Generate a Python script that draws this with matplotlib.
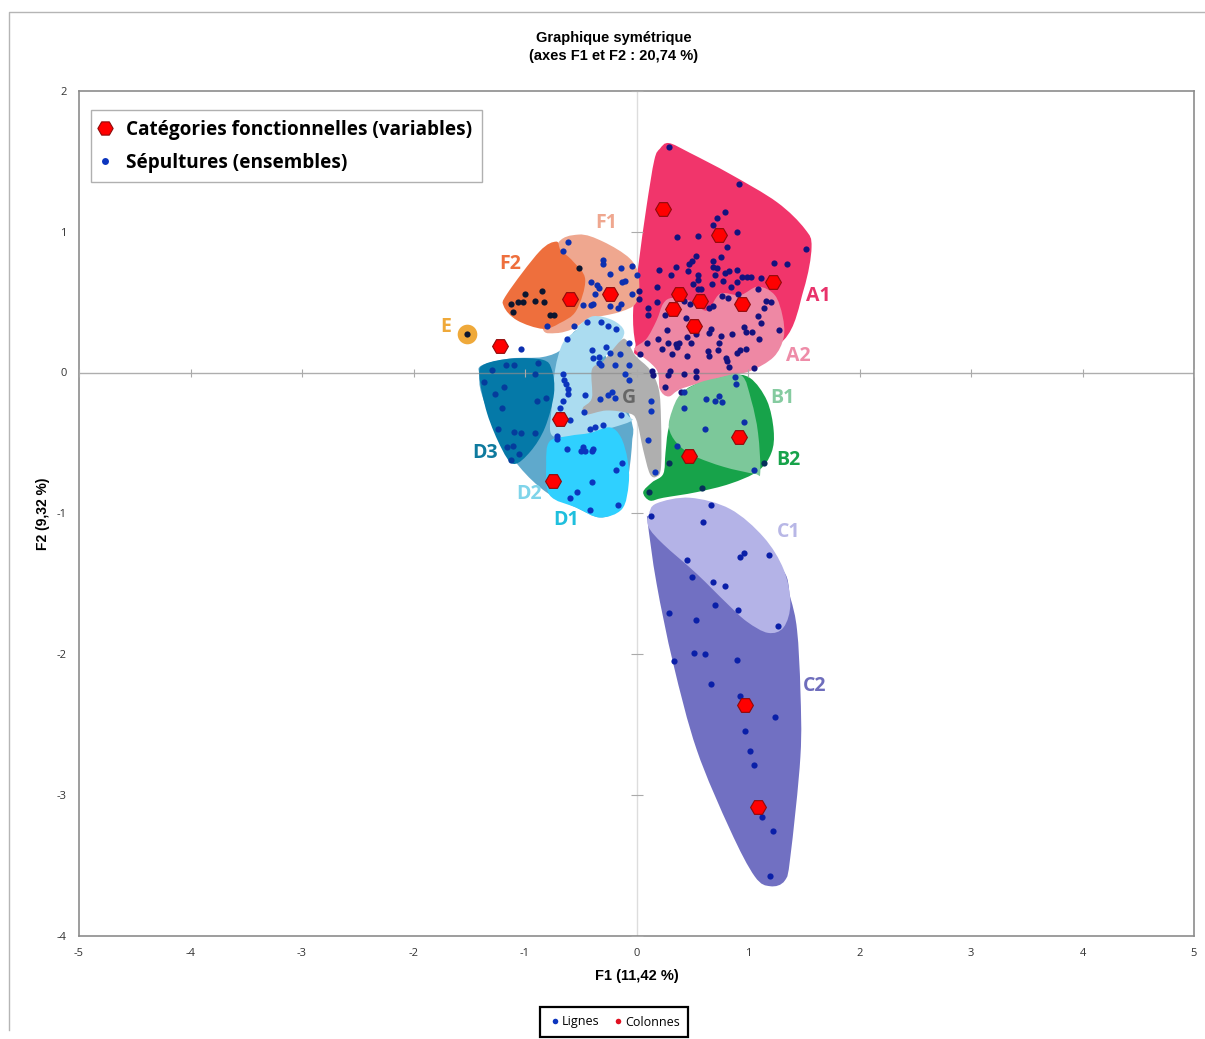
"""Symmetric plot of the correspondence analysis (axes F1 and F2)."""

import matplotlib

matplotlib.use("Agg")
import matplotlib.pyplot as plt
from matplotlib.lines import Line2D
from matplotlib.patches import PathPatch
from matplotlib.path import Path

plt.rcParams["axes.unicode_minus"] = False

# region outlines, control points in F1 / F2 units
a1_outline = [(.21, 1.59), (.29, 1.63), (.48, 1.56), (.84, 1.41), (1.26, 1.21), (1.51, 1.02), (1.57, .89),
              (1.50, .59), (1.32, .23), (.84, .06), (.06, .11), (-.01, .21), (-.03, .44), (.02, .78),
              (.09, 1.18), (.16, 1.51)]
a2_outline = [(.09, .24), (.18, .37), (.24, .49), (.32, .53), (.48, .51), (.63, .44), (.75, .56), (.93, .55),
              (1.09, .61), (1.24, .55), (1.31, .40), (1.32, .25), (1.23, .11), (1.02, .01), (.84, -.02),
              (.42, -.11), (.29, -.17), (.21, -.12), (.18, .02), (0, .15), (-.01, .18)]
b2_outline = [(.84, -.02), (1.02, -.04), (1.17, -.20), (1.23, -.41), (1.21, -.57), (1.09, -.70), (.84, -.79),
              (.54, -.85), (.24, -.89), (.12, -.91), (.06, -.85), (.14, -.78), (.24, -.72), (.26, -.57),
              (.29, -.39), (.39, -.17), (.54, -.08)]
b1_outline = [(.72, -.04), (.94, -.02), (1.03, -.20), (1.09, -.43), (1.11, -.71), (1.06, -.72), (.78, -.67),
              (.51, -.59), (.36, -.50), (.29, -.39), (.32, -.27), (.39, -.16), (.54, -.08)]
c2_outline = [(.11, -1.02), (.10, -1.06), (.18, -1.50), (.33, -2.07), (.54, -2.68), (.84, -3.25), (1.06, -3.58),
              (1.20, -3.65), (1.33, -3.61), (1.38, -3.44), (1.47, -2.73), (1.47, -2.26), (1.44, -1.83),
              (1.38, -1.60), (1.28, -1.38), (.75, -1.19), (.24, -.98)]
c1_outline = [(.11, -1.01), (.18, -.93), (.48, -.89), (.84, -.97), (1.14, -1.17), (1.32, -1.40), (1.38, -1.64),
              (1.32, -1.81), (1.18, -1.85), (.99, -1.77), (.81, -1.64), (.54, -1.43), (.24, -1.22), (.11, -1.10)]
d2_outline = [(-1.41, -.02), (-1.39, .05), (-1.13, .10), (-.84, .11), (-.66, .17), (-.54, .30), (-.36, .25),
              (-.06, -.31), (-.04, -.50), (-.09, -.81), (-.18, -.98), (-.33, -1.03), (-.54, -.96), (-.81, -.85),
              (-1.05, -.67), (-1.25, -.43), (-1.39, -.15)]
d3_outline = [(-1.41, -.02), (-1.36, .06), (-1.11, .10), (-.84, .09), (-.76, .02), (-.74, -.15), (-.82, -.39),
              (-.95, -.56), (-1.10, -.65), (-1.21, -.54), (-1.34, -.29)]
d2_light_outline = [(-.39, .40), (-.21, .37), (-.11, .29), (-.18, .18), (-.36, .02), (-.09, -.29), (-.04, -.34),
                    (-.21, -.39), (-.45, -.44), (-.66, -.46), (-.77, -.43), (-.76, -.24), (-.73, .02),
                    (-.66, .21), (-.54, .30), (-.52, .33)]
d1_outline = [(-.81, -.65), (-.78, -.49), (-.60, -.45), (-.42, -.43), (-.24, -.39), (-.14, -.46), (-.08, -.62),
              (-.07, -.79), (-.13, -.97), (-.33, -1.03), (-.54, -.96), (-.78, -.87)]
g_outline = [(-.15, .22), (-.09, .23), (-.01, .12), (.12, .02), (.20, -.12), (.22, -.34), (.22, -.67), (.18, -.74),
             (.12, -.72), (.06, -.55), (0, -.34), (-.07, -.29), (-.27, -.27), (-.46, -.30), (-.48, -.25),
             (-.40, -.18), (-.40, .02), (-.30, .08)]
f1_outline = [(-.72, .90), (-.52, .98), (-.30, .93), (-.06, .81), (.02, .68), (0, .50), (-.15, .43), (-.42, .38),
              (-.57, .31), (-.72, .28), (-.84, .31), (-.80, .55)]
f2_outline = [(-.72, .93), (-.87, .86), (-1.16, .56), (-1.19, .47), (-1.07, .37), (-.84, .31), (-.69, .35),
              (-.54, .44), (-.46, .66), (-.57, .79), (-.68, .87)]

# burials, grouped by the region they sit on
points_a = [(.29, 1.60), (.92, 1.34), (.79, 1.14), (.72, 1.10), (.69, 1.05), (.90, 1.00), (.55, .97), (.36, .96),
            (.81, .89), (1.52, .88), (.76, .82), (.53, .83), (.50, .79), (.47, .77), (.69, .79), (.69, .75),
            (.72, .74), (.35, .75), (.20, .73), (.46, .72), (.90, .73), (.83, .72), (.79, .71), (1.23, .78),
            (1.35, .77), (.70, .69), (.55, .69), (.31, .69), (.95, .68), (.99, .68), (1.03, .68), (1.12, .67),
            (.78, .65), (.90, .64), (.55, .66), (.51, .63), (.68, .63), (.85, .61), (.18, .61), (.58, .59),
            (.55, .59), (.02, .58), (.02, .52), (.18, .50), (.10, .46), (.10, .41), (.82, .53), (.77, .54),
            (.91, .56), (1.09, .59), (1.16, .51), (1.21, .50), (1.14, .46), (1.09, .40), (1.12, .35), (1.28, .30),
            (.96, .32), (.98, .29), (1.04, .29), (1.10, .24), (.43, .51), (.48, .49), (.69, .47), (.65, .46),
            (.26, .41), (.44, .39), (.27, .30), (.19, .24), (.09, .21), (.03, .13), (.23, .17), (.28, .21),
            (.35, .20), (.38, .21), (.36, .18), (.49, .21), (.45, .25), (.53, .27), (.67, .31), (.65, .28),
            (.76, .26), (.86, .27), (.74, .21), (.73, .16), (.64, .15), (.65, .12), (.32, .13), (.45, .12),
            (.80, .10), (.81, .08), (.93, .16), (.98, .17), (.90, .14), (.83, .04), (1.05, .03), (.14, .01),
            (.15, -.02), (.30, .01), (.28, -.02), (.43, -.01), (.53, .01), (.53, -.03), (.26, -.10), (.40, -.14)]
points_f1 = [(-.61, .93), (-.66, .86), (-.30, .80), (-.30, .77), (-.14, .74), (-.04, .76), (0, .69), (-.24, .70),
             (-.41, .64), (-.35, .62), (-.34, .60), (-.13, .64), (-.10, .65), (-.37, .56), (-.04, .56), (-.14, .49),
             (-.17, .46), (-.24, .47), (-.39, .49), (-.41, .48), (-.48, .48), (-.80, .33), (-.56, .33), (-1.04, .17)]
points_f2 = [(-.52, .74), (-.85, .58), (-1.00, .56), (-.91, .51), (-.83, .50), (-1.02, .50), (-1.06, .50),
             (-1.13, .49), (-1.11, .43), (-.78, .41), (-.74, .41), (-1.52, .27)]
points_d = [(-.62, .24), (-.44, .36), (-.32, .36), (-.26, .33), (-.18, .31), (-.40, .16), (-.27, .18), (-.24, .14),
            (-.07, .21), (-.15, .13), (-.39, .10), (-.34, .11), (-.34, .07), (-.32, .05), (-.19, .05), (-.07, .05),
            (-.10, -.01), (-.07, -.05), (-.66, -.01), (-.65, -.05), (-.63, -.08), (-.61, -.12), (-.61, -.15),
            (-.66, -.20), (-.69, -.25), (-.46, -.16), (-.60, -.34), (-.47, -.28), (-.33, -.19), (-.26, -.16),
            (-.22, -.14), (-.19, -.18), (-.14, -.30), (-.30, -.37), (-.37, -.39), (-.42, -.40), (-.71, -.45),
            (-.71, -.47), (-.62, -.54), (-.48, -.53), (-.50, -.56), (-.46, -.56), (-.39, -.54), (-.40, -.56),
            (-.13, -.64), (-.18, -.69), (-.40, -.78), (-.53, -.85), (-.60, -.89), (-.42, -.98), (-.17, -.94),
            (.13, -.20), (.13, -.27), (.10, -.48), (.17, -.71)]
points_d3 = [(-1.30, .02), (-1.17, .05), (-1.10, .05), (-.88, .07), (-.91, -.01), (-1.37, -.07), (-1.19, -.10),
             (-1.27, -.15), (-.89, -.20), (-.81, -.18), (-1.21, -.25), (-1.24, -.40), (-1.10, -.42), (-1.04, -.43),
             (-.91, -.43), (-1.11, -.52), (-1.16, -.53), (-1.05, -.58), (-1.13, -.62)]
points_b = [(.88, -.03), (.89, -.08), (.43, -.14), (.62, -.19), (.70, -.20), (.74, -.17), (.77, -.21), (.43, -.25),
            (.96, -.35), (.61, -.40), (.36, -.52), (1.05, -.69)]
points_b2 = [(.29, -.64), (1.14, -.64), (.59, -.82), (.11, -.85)]
points_c = [(.13, -1.02), (.67, -.94), (.60, -1.06), (.45, -1.33), (.50, -1.45), (.69, -1.49), (.79, -1.52),
            (.70, -1.65), (.91, -1.69), (.96, -1.28), (.93, -1.31), (1.19, -1.30), (1.27, -1.80), (.29, -1.71),
            (.53, -1.76), (.52, -1.99), (.61, -2.00), (.34, -2.05), (.90, -2.04), (.67, -2.21), (.93, -2.30),
            (1.24, -2.45), (.97, -2.55), (1.02, -2.69), (1.05, -2.79), (1.13, -3.16), (1.22, -3.26), (1.20, -3.58)]

# functional categories
categories = [(.24, 1.16), (.74, .98), (1.22, .64), (.38, .56), (.57, .51), (.33, .45), (.95, .49), (.52, .33),
              (-.24, .56), (-.60, .52), (-1.22, .19), (-.69, -.33), (-.75, -.77), (.92, -.46), (.47, -.59),
              (.97, -2.36), (1.09, -3.09)]
e_centre = [(-1.52, .27)]

x_ticks = [-5, -4, -3, -2, -1, 0, 1, 2, 3, 4, 5]
y_ticks = [-4, -3, -2, -1, 0, 1, 2]

region_labels = ["A1", "A2", "B1", "B2", "C1", "C2", "D1", "D2", "D3", "E", "F1", "F2", "G"]
label_x = [1.63, 1.45, 1.31, 1.36, 1.36, 1.60, -.63, -.96, -1.36, -1.71, -.27, -1.136, -.07]
label_y = [.54, .12, -.18, -.62, -1.13, -2.23, -1.05, -.86, -.57, .32, 1.06, .77, -.18]
label_colors = ["#E8336B", "#EE8CA8", "#85CBA0", "#17A34A", "#B8B7E6", "#6E6DBC", "#1FBFDD", "#7FD4EA", "#0E7A9E",
                "#EFA93A", "#EFA78F", "#EE6F3D", "#666666"]


def blob(points):
    """Closed smooth path through the outline points (Catmull-Rom as Beziers)."""
    n = len(points)
    verts = [points[0]]
    codes = [Path.MOVETO]
    for i in range(n):
        p0, p1, p2, p3 = points[i - 1], points[i], points[(i + 1) % n], points[(i + 2) % n]
        c1 = (p1[0] + (p2[0] - p0[0]) / 6, p1[1] + (p2[1] - p0[1]) / 6)
        c2 = (p2[0] - (p3[0] - p1[0]) / 6, p2[1] - (p3[1] - p1[1]) / 6)
        verts += [c1, c2, p2]
        codes += [Path.CURVE4, Path.CURVE4, Path.CURVE4]
    return Path(verts, codes)


def draw_blob(ax, points, color, zorder):
    ax.add_patch(PathPatch(blob(points), facecolor=color, edgecolor="none", zorder=zorder))


def draw_points(ax, points, color):
    ax.scatter([p[0] for p in points], [p[1] for p in points], s=20, color=color, linewidths=0, zorder=6)


W, H = 1205, 1039
fig = plt.figure(figsize=(W / 100, H / 100), dpi=100)
ax = fig.add_axes([79 / W, 1 - 935.5 / H, (1194 - 79) / W, (935.5 - 91) / H])
ax.set_xlim(-5, 5)
ax.set_ylim(-4, 2)

# outer frame of the exported sheet
fig.add_artist(Line2D([9 / W, 9 / W, 1], [1 - 1030 / H, 1 - 12 / H, 1 - 12 / H], color="#B5B5B5", lw=1))

ax.axvline(0, color="#DDDDDD", lw=1, zorder=1)
ax.plot(x_ticks, [0] * len(x_ticks), ls="none", marker="|", ms=6, mew=.8, color="#AAAAAA", zorder=5)
ax.plot([0] * len(y_ticks), y_ticks, ls="none", marker="_", ms=8, mew=.8, color="#AAAAAA", zorder=5)

draw_blob(ax, a1_outline, "#F1356B", 2)
draw_blob(ax, a2_outline, "#EE88A4", 2.1)
draw_blob(ax, f1_outline, "#EFA78F", 2)
draw_blob(ax, f2_outline, "#EE6F3D", 2.1)
draw_blob(ax, d2_outline, "#5FA9CC", 2)
draw_blob(ax, d2_light_outline, "#ABDCF0", 2.1)
draw_blob(ax, d1_outline, "#2FD0FF", 2.2)
draw_blob(ax, d3_outline, "#0579A8", 2.2)
draw_blob(ax, g_outline, "#AFAFAF", 2.3)
draw_blob(ax, b2_outline, "#17A34A", 2)
draw_blob(ax, b1_outline, "#7CC89A", 2.1)
draw_blob(ax, c2_outline, "#7170C2", 2)
draw_blob(ax, c1_outline, "#B4B3E7", 2.1)
ax.scatter([p[0] for p in e_centre], [p[1] for p in e_centre], s=200, color="#EFA93A", linewidths=0, zorder=3)
ax.axhline(0, color="#8C8C8C", lw=1, alpha=.7, zorder=4)

draw_points(ax, points_a, "#14127E")
draw_points(ax, points_f1, "#0C2FB0")
draw_points(ax, points_f2, "#0B1630")
draw_points(ax, points_d, "#0C35BE")
draw_points(ax, points_d3, "#053C9C")
draw_points(ax, points_b, "#0C2FA8")
draw_points(ax, points_b2, "#07305A")
draw_points(ax, points_c, "#0A1FA8")

ax.scatter([p[0] for p in categories], [p[1] for p in categories], s=130, marker="H", color="#FF0000",
           edgecolors="#8E0A0A", linewidths=.8, zorder=7)

for label, x, y, color in zip(region_labels, label_x, label_y, label_colors):
    ax.text(x, y, label, color=color, fontsize=14, fontweight="bold", family="Open Sans", ha="center", va="center",
            zorder=8)

for side in ax.spines.values():
    side.set_color("#8C8C8C")
    side.set_linewidth(1.2)
ax.set_xticks(x_ticks)
ax.set_yticks(y_ticks)
ax.tick_params(length=0, labelsize=8, labelcolor="#333333", pad=9)
for tick in ax.get_xticklabels() + ax.get_yticklabels():
    tick.set_family("Open Sans")

ax.set_xlabel("F1 (11,42 %)", fontsize=10.5, fontweight="bold", family="Liberation Sans", labelpad=7)
ax.set_ylabel("F2 (9,32 %)", fontsize=10, fontweight="bold", family="Liberation Sans", labelpad=5)
fig.text(613.5 / W, 1 - 47 / H, "Graphique symétrique\n(axes F1 et F2 : 20,74 %)", ha="center", va="center",
         fontsize=10.5, fontweight="bold", family="Liberation Sans", linespacing=1.35)

top_handles = [
    Line2D([], [], ls="none", marker="H", ms=11, color="#FF0000", mec="#8E0A0A", mew=.8),
    Line2D([], [], ls="none", marker="o", ms=5, color="#0C35BE", mew=0),
]
top_legend = ax.legend(top_handles, ["Catégories fonctionnelles (variables)", "Sépultures (ensembles)"],
                       loc="upper left", bbox_to_anchor=((91 - 79) / 1115, 1 - (110 - 91) / 844.5), borderaxespad=0,
                       prop={"family": "Open Sans", "weight": "bold", "size": 13.7}, fancybox=False,
                       edgecolor="#B0B0B0", framealpha=1, handletextpad=.86, borderpad=.5, labelspacing=.7,
                       handlelength=.5)
top_legend.set_zorder(9)
top_legend.get_frame().set_linewidth(1)

low_handles = [
    Line2D([], [], ls="none", marker="o", ms=4, color="#0C35BE", mew=0),
    Line2D([], [], ls="none", marker="o", ms=4, color="#E01020", mew=0),
]
low_legend = fig.legend(low_handles, ["Lignes", "Colonnes"], loc="center", bbox_to_anchor=(614 / W, 1 - 1022 / H), ncol=2,
                        prop={"family": "Open Sans", "size": 9}, fancybox=False, edgecolor="black", framealpha=1,
                        handletextpad=.05, columnspacing=1.0, handlelength=1, borderpad=.65)
low_legend.get_frame().set_linewidth(1.6)

fig.savefig("out.png", dpi=100)
